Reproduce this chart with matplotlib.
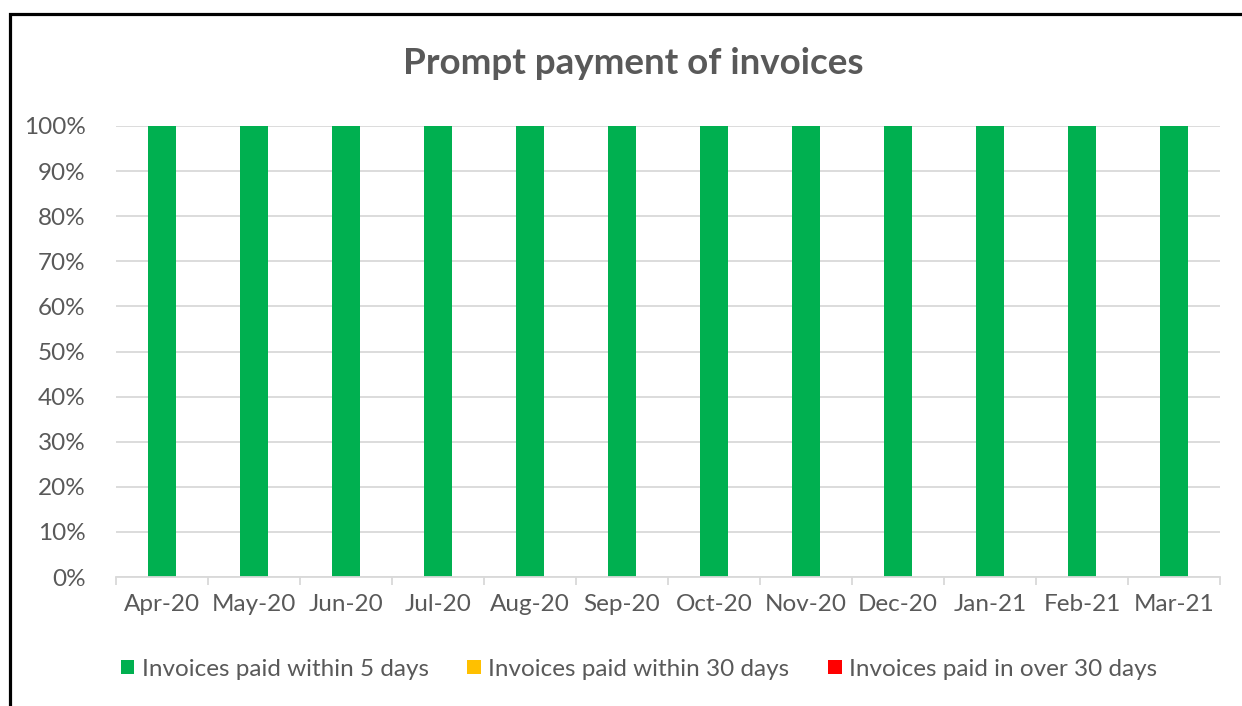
import matplotlib
matplotlib.use("Agg")
import matplotlib.pyplot as plt
from matplotlib.patches import Rectangle
import numpy as np

months = ["Apr-20", "May-20", "Jun-20", "Jul-20", "Aug-20", "Sep-20",
          "Oct-20", "Nov-20", "Dec-20", "Jan-21", "Feb-21", "Mar-21"]
within_5 = [1.0] * 12
within_30 = [0.0] * 12
over_30 = [0.0] * 12
series_names = ["Invoices paid within 5 days", "Invoices paid within 30 days",
                "Invoices paid in over 30 days"]
colors = ["#00B050", "#FFC000", "#FF0000"]
yticks = np.arange(0, 1.01, 0.1)

plt.rcParams['font.family'] = ['Lato', 'DejaVu Sans']
W, H = 1242, 706
fig = plt.figure(figsize=(W / 100, H / 100), dpi=100)
ax = fig.add_axes([116 / W, 1 - 577 / H, (1220 - 116) / W, (577 - 126) / H])

x = np.arange(len(months))
bottom = np.zeros(len(months))
handles = []
for vals, name, c in zip([within_5, within_30, over_30], series_names, colors):
    b = ax.bar(x, vals, width=0.31, bottom=bottom, color=c, label=name, zorder=3)
    handles.append(b)
    bottom = bottom + np.array(vals)

ax.set_xlim(-0.5, len(months) - 0.5)
ax.set_ylim(0, 1)
ax.set_yticks(yticks)
ax.set_yticklabels([f"{int(round(v * 100))}%" for v in yticks])
ax.yaxis.grid(True, color="#d9d9d9", linewidth=1.3, zorder=0)
ax.set_axisbelow(True)
for s in ["top", "right", "left"]:
    ax.spines[s].set_visible(False)
ax.spines["bottom"].set_color("#d9d9d9")
ax.spines["bottom"].set_linewidth(1.3)
ax.spines["bottom"].set_zorder(4)

ax.set_xticks(x)
ax.set_xticklabels(months)
ax.set_xticks(np.arange(-0.5, len(months)), minor=True)
ax.tick_params(axis="x", which="major", length=0, pad=12, labelsize=17.5, labelcolor="#595959")
ax.tick_params(axis="x", which="minor", length=6, width=1.3, color="#d9d9d9")
ax.tick_params(axis="y", length=0, pad=22, labelsize=17.5, labelcolor="#595959")

fig.text(633 / W, 1 - 64 / H, "Prompt payment of invoices", ha="center", va="center",
         fontsize=26.5, fontweight="bold", color="#595959")

leg = fig.legend(handles=handles, labels=series_names, loc="center",
                 bbox_to_anchor=(639 / W, 1 - 669 / H), ncol=3, frameon=False,
                 fontsize=17.5, handlelength=0.56, handleheight=0.56, handletextpad=0.3,
                 columnspacing=1.6, labelcolor="#595959")

border = Rectangle((10 / W, -0.1), 1.2, (1 - 14 / H) + 0.1, transform=fig.transFigure,
                   fill=False, edgecolor="black", linewidth=2.3, clip_on=False)
fig.patches.append(border)

fig.savefig("out.png", dpi=100)
